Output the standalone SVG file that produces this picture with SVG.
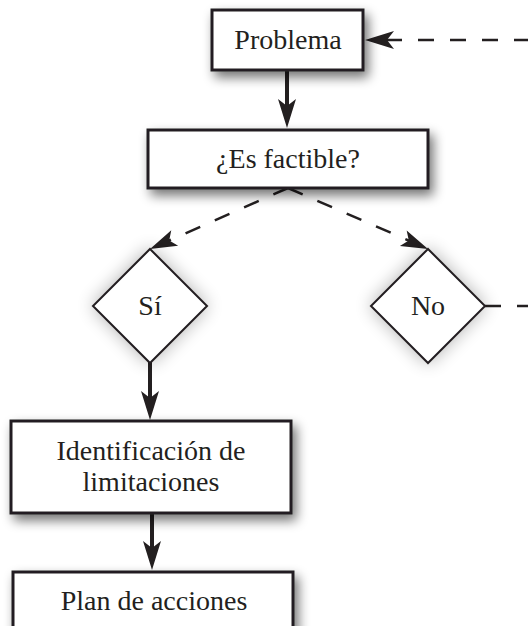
<svg xmlns="http://www.w3.org/2000/svg" width="528" height="626" viewBox="0 0 528 626">
<style>
.box{fill:#fff;stroke:#231f20;stroke-width:3}
.dia{fill:#fff;stroke:#231f20;stroke-width:2}
.lbl{font-family:"Liberation Serif",serif;font-size:28px;fill:#231f20;text-anchor:middle}
.solid{fill:none;stroke:#231f20;stroke-width:4}
.dash{fill:none;stroke:#231f20;stroke-width:2.5;stroke-dasharray:16 16}
</style>
<defs>
<filter id="sh" x="-30%" y="-40%" width="160%" height="190%">
<feGaussianBlur in="SourceAlpha" stdDeviation="6"/>
<feOffset dx="4" dy="6" result="b"/>
<feComponentTransfer><feFuncA type="linear" slope="0.55"/></feComponentTransfer>
<feMerge><feMergeNode/><feMergeNode in="SourceGraphic"/></feMerge>
</filter>
<filter id="glow" x="-50%" y="-50%" width="200%" height="200%">
<feGaussianBlur in="SourceAlpha" stdDeviation="9"/>
<feComponentTransfer><feFuncA type="linear" slope="0.3"/></feComponentTransfer>
<feMerge><feMergeNode/><feMergeNode in="SourceGraphic"/></feMerge>
</filter>
<marker id="ah" markerUnits="userSpaceOnUse" markerWidth="32" markerHeight="22" viewBox="-12 -11 32 22" refX="0" refY="0" orient="auto">
<path d="M20,0 L-9,-9 L-2,0 L-9,9 Z" fill="#231f20"/>
</marker>
<marker id="ahd" markerUnits="userSpaceOnUse" markerWidth="32" markerHeight="22" viewBox="-12 -11 32 22" refX="0" refY="0" orient="auto">
<path d="M20,0 L-7,-8.5 L-1,0 L-7,8.5 Z" fill="#231f20"/>
</marker>
</defs>

<g id="connectors">
<path class="solid" d="M287,70 V108" marker-end="url(#ah)"/>
<path class="dash" d="M288,188 L168.3,240.9" marker-end="url(#ahd)"/>
<path class="dash" d="M288,188 L409.7,241" marker-end="url(#ahd)"/>
<path class="dash" d="M485,306 H545"/>
<path class="dash" d="M562,40 H385" marker-end="url(#ah)"/>
<path class="solid" d="M150,362 V400" marker-end="url(#ah)"/>
<path class="solid" d="M152,513 V550" marker-end="url(#ah)"/>
</g>

<g id="problema">
<rect class="box" x="212" y="10" width="151" height="60" filter="url(#sh)"/>
<text class="lbl" x="288" y="49">Problema</text>
</g>

<g id="factible">
<rect class="box" x="148" y="130" width="280" height="58" filter="url(#sh)"/>
<text class="lbl" x="288" y="168">¿Es factible?</text>
</g>

<g id="si">
<polygon class="dia" points="150,249 207,306 150,363 93,306" filter="url(#glow)"/>
<text class="lbl" x="150" y="315">Sí</text>
</g>

<g id="no">
<polygon class="dia" points="428,249 485,306 428,363 371,306" filter="url(#glow)"/>
<text class="lbl" x="428" y="315">No</text>
</g>

<g id="identificacion">
<rect class="box" x="11" y="421" width="280" height="92" filter="url(#sh)"/>
<text class="lbl" x="151" y="460">Identificación de</text>
<text class="lbl" x="151" y="491">limitaciones</text>
</g>

<g id="plan">
<rect class="box" x="13" y="572" width="280" height="70" filter="url(#sh)"/>
<text class="lbl" x="154" y="610">Plan de acciones</text>
</g>
</svg>
